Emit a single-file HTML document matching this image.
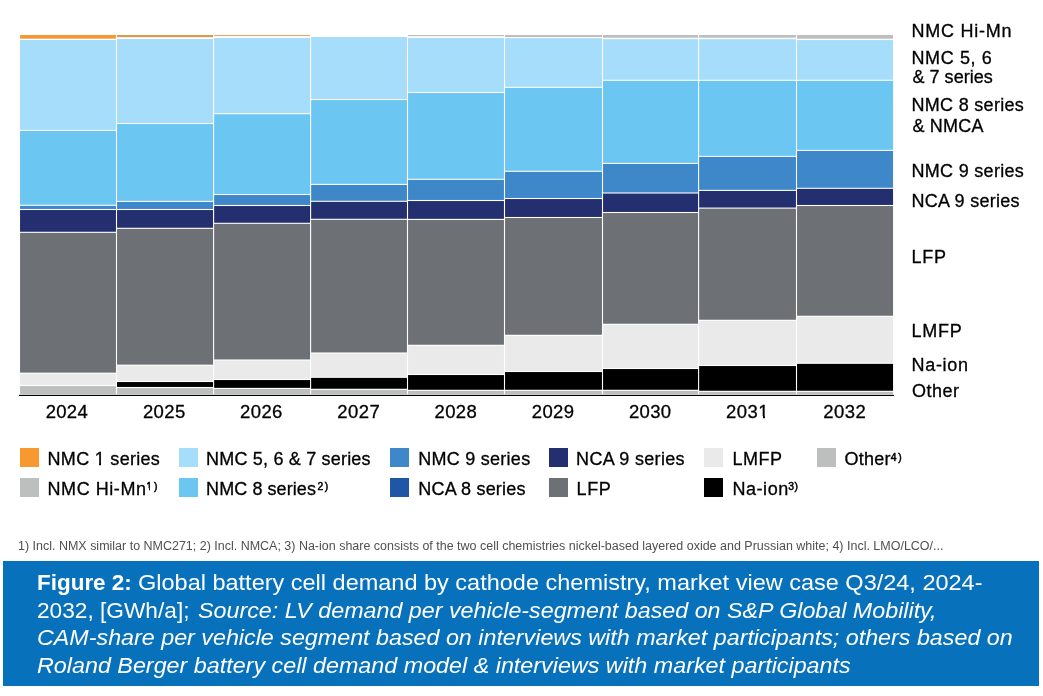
<!DOCTYPE html>
<html><head><meta charset="utf-8"><title>Figure 2</title>
<style>
html,body{margin:0;padding:0;background:#fff;}
body{width:1043px;height:696px;position:relative;overflow:hidden;font-family:"Liberation Sans",sans-serif;color:#000;}
#wrap{position:absolute;left:0;top:0;width:1043px;height:696px;will-change:transform;}
.t{position:absolute;-webkit-text-stroke:0.3px #000;line-height:20px;height:20px;white-space:nowrap;}
.t.sup{-webkit-text-stroke:0.5px #000;}
.cv{position:absolute;background:#fff;}
.sq{position:absolute;width:19px;height:18.8px;}
.fn{position:absolute;left:18.2px;top:539.1px;font-size:12.45px;line-height:15px;color:#505050;white-space:nowrap;transform-origin:0 0;}
.cap{position:absolute;left:3px;top:561px;width:1035.8px;height:125px;background:#0871bb;}
.cp{position:absolute;font-size:21.4px;line-height:27.87px;height:27.87px;color:#fff;white-space:nowrap;transform-origin:0 0;}
</style></head><body><div id="wrap">
<svg width="1043" height="420" viewBox="0 0 1043 420" style="position:absolute;left:0;top:0">
<rect x="20.05" y="35.00" width="95.90" height="3.70" fill="#f29a38"/>
<rect x="20.05" y="40.00" width="95.90" height="89.85" fill="#a5ddfa"/>
<rect x="20.05" y="130.95" width="95.90" height="73.80" fill="#6cc6f2"/>
<rect x="20.05" y="205.85" width="95.90" height="3.10" fill="#3e87c8"/>
<rect x="20.05" y="210.05" width="95.90" height="21.70" fill="#232f6e"/>
<rect x="20.05" y="232.85" width="95.90" height="139.80" fill="#6d7074"/>
<rect x="20.05" y="373.75" width="95.90" height="11.20" fill="#eaeaea"/>
<rect x="20.05" y="386.05" width="95.90" height="8.25" fill="#bdbfbf"/>
<rect x="117.05" y="35.00" width="96.00" height="2.20" fill="#da9a50"/>
<rect x="117.05" y="39.00" width="96.00" height="83.95" fill="#a5ddfa"/>
<rect x="117.05" y="124.05" width="96.00" height="76.80" fill="#6cc6f2"/>
<rect x="117.05" y="201.95" width="96.00" height="7.00" fill="#3e87c8"/>
<rect x="117.05" y="210.05" width="96.00" height="17.70" fill="#232f6e"/>
<rect x="117.05" y="228.85" width="96.00" height="135.80" fill="#6d7074"/>
<rect x="117.05" y="365.75" width="96.00" height="15.20" fill="#eaeaea"/>
<rect x="117.05" y="382.05" width="96.00" height="4.90" fill="#000000"/>
<rect x="117.05" y="388.05" width="96.00" height="6.25" fill="#bdbfbf"/>
<rect x="214.15" y="35.00" width="95.90" height="1.10" fill="#e5a764"/>
<rect x="214.15" y="38.00" width="95.90" height="75.15" fill="#a5ddfa"/>
<rect x="214.15" y="114.25" width="95.90" height="79.70" fill="#6cc6f2"/>
<rect x="214.15" y="195.05" width="95.90" height="9.90" fill="#3e87c8"/>
<rect x="214.15" y="206.05" width="95.90" height="16.70" fill="#232f6e"/>
<rect x="214.15" y="223.85" width="95.90" height="135.60" fill="#6d7074"/>
<rect x="214.15" y="360.55" width="95.90" height="18.40" fill="#eaeaea"/>
<rect x="214.15" y="380.05" width="95.90" height="7.80" fill="#000000"/>
<rect x="214.15" y="388.95" width="95.90" height="5.35" fill="#bdbfbf"/>
<rect x="311.15" y="37.00" width="95.80" height="61.95" fill="#a5ddfa"/>
<rect x="311.15" y="100.05" width="95.80" height="83.80" fill="#6cc6f2"/>
<rect x="311.15" y="184.95" width="95.80" height="15.80" fill="#3e87c8"/>
<rect x="311.15" y="201.85" width="95.80" height="16.90" fill="#232f6e"/>
<rect x="311.15" y="219.85" width="95.80" height="132.60" fill="#6d7074"/>
<rect x="311.15" y="353.55" width="95.80" height="23.20" fill="#eaeaea"/>
<rect x="311.15" y="377.85" width="95.80" height="10.90" fill="#000000"/>
<rect x="311.15" y="389.85" width="95.80" height="4.45" fill="#bdbfbf"/>
<rect x="408.05" y="35.00" width="95.90" height="1.20" fill="#bdbfbf"/>
<rect x="408.05" y="38.00" width="95.90" height="53.95" fill="#a5ddfa"/>
<rect x="408.05" y="93.05" width="95.90" height="85.70" fill="#6cc6f2"/>
<rect x="408.05" y="179.85" width="95.90" height="20.10" fill="#3e87c8"/>
<rect x="408.05" y="201.05" width="95.90" height="17.80" fill="#232f6e"/>
<rect x="408.05" y="219.95" width="95.90" height="124.80" fill="#6d7074"/>
<rect x="408.05" y="345.85" width="95.90" height="28.10" fill="#eaeaea"/>
<rect x="408.05" y="375.05" width="95.90" height="14.70" fill="#000000"/>
<rect x="408.05" y="390.85" width="95.90" height="3.45" fill="#bdbfbf"/>
<rect x="505.05" y="35.00" width="96.90" height="2.00" fill="#bdbfbf"/>
<rect x="505.05" y="38.20" width="96.90" height="48.55" fill="#a5ddfa"/>
<rect x="505.05" y="87.85" width="96.90" height="82.90" fill="#6cc6f2"/>
<rect x="505.05" y="171.85" width="96.90" height="26.10" fill="#3e87c8"/>
<rect x="505.05" y="199.05" width="96.90" height="17.90" fill="#232f6e"/>
<rect x="505.05" y="218.05" width="96.90" height="116.70" fill="#6d7074"/>
<rect x="505.05" y="335.85" width="96.90" height="35.10" fill="#eaeaea"/>
<rect x="505.05" y="372.05" width="96.90" height="17.70" fill="#000000"/>
<rect x="505.05" y="390.85" width="96.90" height="3.45" fill="#bdbfbf"/>
<rect x="603.05" y="35.00" width="95.00" height="2.70" fill="#bdbfbf"/>
<rect x="603.05" y="39.20" width="95.00" height="40.55" fill="#a5ddfa"/>
<rect x="603.05" y="80.85" width="95.00" height="82.00" fill="#6cc6f2"/>
<rect x="603.05" y="163.95" width="95.00" height="28.50" fill="#3e87c8"/>
<rect x="603.05" y="193.55" width="95.00" height="18.40" fill="#232f6e"/>
<rect x="603.05" y="213.05" width="95.00" height="110.70" fill="#6d7074"/>
<rect x="603.05" y="324.85" width="95.00" height="43.10" fill="#eaeaea"/>
<rect x="603.05" y="369.05" width="95.00" height="20.70" fill="#000000"/>
<rect x="603.05" y="390.85" width="95.00" height="3.45" fill="#bdbfbf"/>
<rect x="699.15" y="35.00" width="96.80" height="2.70" fill="#bdbfbf"/>
<rect x="699.15" y="39.20" width="96.80" height="40.55" fill="#a5ddfa"/>
<rect x="699.15" y="80.85" width="96.80" height="75.00" fill="#6cc6f2"/>
<rect x="699.15" y="156.95" width="96.80" height="32.90" fill="#3e87c8"/>
<rect x="699.15" y="190.95" width="96.80" height="16.60" fill="#232f6e"/>
<rect x="699.15" y="208.65" width="96.80" height="111.10" fill="#6d7074"/>
<rect x="699.15" y="320.85" width="96.80" height="44.10" fill="#eaeaea"/>
<rect x="699.15" y="366.05" width="96.80" height="24.70" fill="#000000"/>
<rect x="699.15" y="391.85" width="96.80" height="2.45" fill="#bdbfbf"/>
<rect x="797.05" y="35.00" width="96.00" height="3.70" fill="#bdbfbf"/>
<rect x="797.05" y="40.10" width="96.00" height="39.65" fill="#a5ddfa"/>
<rect x="797.05" y="80.85" width="96.00" height="69.00" fill="#6cc6f2"/>
<rect x="797.05" y="150.95" width="96.00" height="36.80" fill="#3e87c8"/>
<rect x="797.05" y="188.85" width="96.00" height="16.10" fill="#232f6e"/>
<rect x="797.05" y="206.05" width="96.00" height="109.70" fill="#6d7074"/>
<rect x="797.05" y="316.85" width="96.00" height="45.90" fill="#eaeaea"/>
<rect x="797.05" y="363.85" width="96.00" height="26.90" fill="#000000"/>
<rect x="797.05" y="391.85" width="96.00" height="2.45" fill="#bdbfbf"/>
<rect x="19" y="394.85" width="875" height="1.15" fill="#000"/>
</svg>
<div class="t " id="y0" style="left:45.73px;top:401.50px;font-size:18.5px;letter-spacing:0.283px">2024</div>
<div class="t " id="y1" style="left:142.93px;top:401.50px;font-size:18.5px;letter-spacing:0.367px">2025</div>
<div class="t " id="y2" style="left:240.12px;top:401.50px;font-size:18.5px;letter-spacing:0.367px">2026</div>
<div class="t " id="y3" style="left:337.33px;top:401.50px;font-size:18.5px;letter-spacing:0.408px">2027</div>
<div class="t " id="y4" style="left:434.53px;top:401.50px;font-size:18.5px;letter-spacing:0.367px">2028</div>
<div class="t " id="y5" style="left:531.73px;top:401.50px;font-size:18.5px;letter-spacing:0.408px">2029</div>
<div class="t " id="y6" style="left:628.93px;top:401.50px;font-size:18.5px;letter-spacing:0.325px">2030</div>
<div class="t " id="y7" style="left:726.12px;top:401.50px;font-size:18.5px;letter-spacing:0.408px">2031</div>
<div class="t " id="y8" style="left:823.33px;top:401.50px;font-size:18.5px;letter-spacing:0.408px">2032</div>
<div class="t " id="r0" style="left:911.50px;top:21.00px;font-size:18px;letter-spacing:0.737px">NMC Hi-Mn</div>
<div class="t " id="r1" style="left:911.50px;top:48.00px;font-size:18px;letter-spacing:0.600px">NMC 5, 6</div>
<div class="t " id="r2" style="left:912.38px;top:67.00px;font-size:18px;letter-spacing:0.050px">&amp; 7 series</div>
<div class="t " id="r3" style="left:911.50px;top:95.00px;font-size:18px;letter-spacing:0.302px">NMC 8 series</div>
<div class="t " id="r4" style="left:912.38px;top:116.00px;font-size:18px;letter-spacing:0.205px">&amp; NMCA</div>
<div class="t " id="r5" style="left:911.50px;top:161.00px;font-size:18px;letter-spacing:0.302px">NMC 9 series</div>
<div class="t " id="r6" style="left:911.50px;top:191.00px;font-size:18px;letter-spacing:0.275px">NCA 9 series</div>
<div class="t " id="r7" style="left:911.50px;top:247.00px;font-size:18px;letter-spacing:0.750px">LFP</div>
<div class="t " id="r8" style="left:911.50px;top:321.00px;font-size:18px;letter-spacing:0.767px">LMFP</div>
<div class="t " id="r9" style="left:911.50px;top:355.00px;font-size:18px;letter-spacing:0.705px">Na-ion</div>
<div class="t " id="r10" style="left:912.12px;top:381.00px;font-size:18px;letter-spacing:0.456px">Other</div>
<div class="t " id="g0" style="left:47.55px;top:449.00px;font-size:18px;letter-spacing:0.298px">NMC 1 series</div>
<div class="t " id="g1" style="left:206.10px;top:449.00px;font-size:18px;letter-spacing:0.190px">NMC 5, 6 &amp; 7 series</div>
<div class="t " id="g2" style="left:418.25px;top:449.00px;font-size:18px;letter-spacing:0.261px">NMC 9 series</div>
<div class="t " id="g3" style="left:576.10px;top:449.00px;font-size:18px;letter-spacing:0.311px">NCA 9 series</div>
<div class="t " id="g4" style="left:732.40px;top:449.00px;font-size:18px;letter-spacing:0.533px">LMFP</div>
<div class="t " id="g5" style="left:844.52px;top:449.00px;font-size:18px;letter-spacing:0.256px">Other</div>
<div class="t " id="g6" style="left:47.55px;top:479.00px;font-size:18px;letter-spacing:0.556px">NMC Hi-Mn</div>
<div class="t " id="g7" style="left:206.10px;top:479.00px;font-size:18px;letter-spacing:0.075px">NMC 8 series</div>
<div class="t " id="g8" style="left:418.25px;top:479.00px;font-size:18px;letter-spacing:0.198px">NCA 8 series</div>
<div class="t " id="g9" style="left:576.50px;top:479.00px;font-size:18px;letter-spacing:0.650px">LFP</div>
<div class="t " id="g10" style="left:732.40px;top:479.00px;font-size:18px;letter-spacing:0.565px">Na-ion</div>
<div class="t sup" id="s0" style="left:890.85px;top:447.50px;font-size:10.4px;letter-spacing:1.625px">4)</div>
<div class="t sup" id="s1" style="left:146.35px;top:476.50px;font-size:10.4px;letter-spacing:1.925px">1)</div>
<div class="t sup" id="s2" style="left:317.40px;top:476.50px;font-size:10.4px;letter-spacing:1.675px">2)</div>
<div class="t sup" id="s3" style="left:788.23px;top:476.50px;font-size:10.4px;letter-spacing:0.550px">3)</div>

<div class="sq" style="left:20px;top:448.0px;background:#f7992f"></div><div class="sq" style="left:179px;top:448.0px;background:#a5ddfa"></div><div class="sq" style="left:390px;top:448.0px;background:#3e87c8"></div><div class="sq" style="left:549px;top:448.0px;background:#232f6e"></div><div class="sq" style="left:704px;top:448.0px;background:#eaeaea"></div><div class="sq" style="left:817.2px;top:448.0px;background:#bdbfbf"></div><div class="sq" style="left:20px;top:478.1px;background:#bdbfbf"></div><div class="sq" style="left:179px;top:478.1px;background:#6cc6f2"></div><div class="sq" style="left:390px;top:478.1px;background:#1f57a6"></div><div class="sq" style="left:549px;top:478.1px;background:#6d7074"></div><div class="sq" style="left:704px;top:478.1px;background:#000000"></div>
<div class="cv" style="left:95.09px;top:462.76px;width:3.99px;height:2.84px"></div><div class="cv" style="left:101.01px;top:462.76px;width:3.84px;height:2.84px"></div>
<div class="cv" style="left:758.60px;top:415.72px;width:4.07px;height:2.88px"></div><div class="cv" style="left:764.64px;top:415.72px;width:3.93px;height:2.88px"></div>
<div class="cv" style="left:146.14px;top:488.32px;width:2.55px;height:2.28px"></div><div class="cv" style="left:150.15px;top:488.32px;width:2.47px;height:2.28px"></div>

<div class="fn" id="fn" style="transform:scaleX(1.0036)">1) Incl. NMX similar to NMC271; 2) Incl. NMCA; 3) Na-ion share consists of the two cell chemistries nickel-based layered oxide and Prussian white; 4) Incl. LMO/LCO/...</div>
<div class="cap"></div>
<div class="cp" id="cp0" style="left:37.3px;top:570.30px;transform:scaleX(1.0495)"><b>Figure 2:</b></div>
<div class="cp" id="cp1" style="left:137.8px;top:570.30px;transform:scaleX(1.0984)">Global battery cell demand by cathode chemistry, market view case Q3/24, 2024-</div>
<div class="cp" id="cp2" style="left:36.9px;top:598.20px;transform:scaleX(1.0599)">2032, [GWh/a];</div>
<div class="cp" id="cp3" style="left:198.0px;top:598.20px;transform:scaleX(1.0877)"><i>Source: LV demand per vehicle-segment based on S&amp;P Global Mobility,</i></div>
<div class="cp" id="cp4" style="left:37.0px;top:625.04px;transform:scaleX(1.0884)"><i>CAM-share per vehicle segment based on interviews with market participants; others based on</i></div>
<div class="cp" id="cp5" style="left:37.3px;top:652.91px;transform:scaleX(1.0898)"><i>Roland Berger battery cell demand model &amp; interviews with market participants</i></div>

</div></body></html>
